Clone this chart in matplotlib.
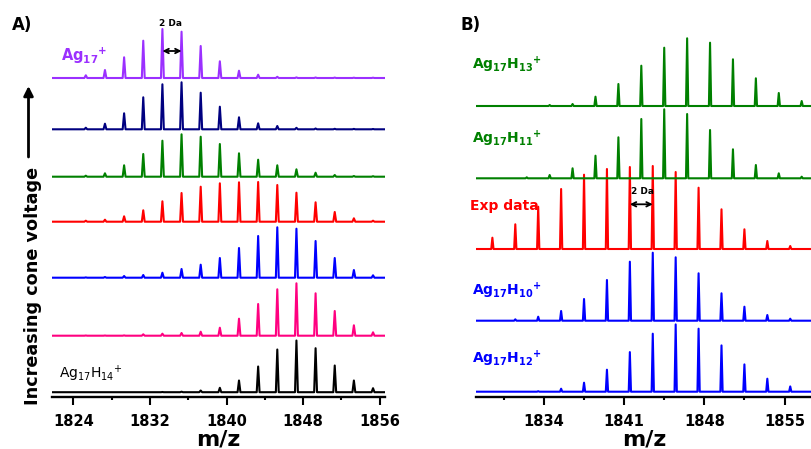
import numpy as np
import matplotlib.pyplot as plt

plt.rcParams['font.family'] = ['DejaVu Sans']
plt.rcParams['mathtext.fontset'] = 'dejavusans'

# ---- panel A: isotope peaks (m/z) and heights, rows from bottom to top ----
mz_a = [1825.3, 1827.3, 1829.3, 1831.3, 1833.3, 1835.3, 1837.3, 1839.3,
        1841.3, 1843.3, 1845.3, 1847.3, 1849.3, 1851.3, 1853.3, 1855.3]
a_black = [0, 0, 0, 0, 0.2, 0.5, 1.7, 4.4, 11.7, 25.7, 42.7, 51.7, 44, 26.7, 11.7, 4]
a_pink = [0.2, 0.2, 0.3, 1.4, 2, 2.7, 4, 8, 17, 31.7, 46.4, 52.4, 42.4, 24.7, 10.4, 3.4]
a_blue = [0.3, 0.7, 1.7, 2.7, 5, 8.7, 13, 19.7, 29.7, 41.7, 50.4, 49, 36.7, 19.7, 7.7, 2.4]
a_red = [1, 2, 5.4, 11.4, 20.4, 28.7, 35, 38.4, 39.4, 39.7, 36.7, 29, 19.4, 9.7, 3.4, 1]
a_green = [1, 3.4, 11.4, 22.7, 36, 42.4, 40, 32.7, 23.4, 17, 11.4, 7.4, 4, 1.7, 0.7, 0.5]
a_navy = [1.6, 5.6, 16, 32, 45, 47, 36.6, 22.6, 12, 6, 3.3, 1.5, 0.8, 0.5, 0.4, 0.3]
a_purple = [2.7, 8, 20.7, 37.3, 49, 46.3, 32, 16.7, 7.3, 3.3, 1.2, 0.6, 0.5, 0.4, 0.3, 0.3]

# ---- panel B: experimental vs simulated ----
mz_b_even = [1829.5, 1831.5, 1833.5, 1835.5, 1837.5, 1839.5, 1841.5,
             1843.5, 1845.5, 1847.5, 1849.5, 1851.5, 1853.5, 1855.5]
mz_b_odd = [1830.5, 1832.5, 1834.5, 1836.5, 1838.5, 1840.5, 1842.5,
            1844.5, 1846.5, 1848.5, 1850.5, 1852.5, 1854.5, 1856.5]
b_h12 = [0, 0, 0.5, 3, 9, 22, 39.6, 58, 67.3, 63, 46.3, 27.3, 13, 5.3]
b_h10 = [0, 1.4, 4, 9.7, 21.7, 40.7, 59, 68, 63.4, 47.4, 27.4, 14, 5.7, 2]
b_exp = [11.3, 24.7, 42.3, 60, 74.3, 80, 82, 83, 77, 61.3, 39.7, 19.7, 8, 3]
b_h11 = [0, 1, 3.3, 10, 22.6, 41, 59.3, 69, 64.3, 48.3, 29, 13.3, 5, 1.6]
b_h13 = [0, 0, 1, 2, 9.3, 22, 40.3, 58.3, 67.7, 63.3, 46.7, 27.7, 13, 5]

W, H = 812, 449


def fx(px):
    return px / W


def fy(py):
    return 1 - py / H


def trace(ax, centers, heights, base, color, x0, x1, w):
    xs, ys = [x0], [base]
    for c, h in zip(centers, heights):
        xs += [c - w, c, c + w]
        ys += [base, base + h, base]
    xs.append(x1)
    ys.append(base)
    ax.plot(xs, ys, color=color, lw=1.5)


def style_axis(ax, xlim, major, minor):
    ax.set_xlim(*xlim)
    ax.set_ylim(0, 381.7)
    for s in ['left', 'right', 'top']:
        ax.spines[s].set_visible(False)
    ax.spines['bottom'].set_linewidth(1.7)
    ax.set_yticks([])
    ax.set_xticks(major)
    ax.set_xticks(minor, minor=True)
    ax.tick_params(axis='x', which='major', direction='out', length=5.5, width=1.5,
                   pad=7, labelsize=10.5)
    ax.tick_params(axis='x', which='minor', direction='out', length=2.5, width=1.5)
    for lab in ax.get_xticklabels():
        lab.set_fontweight('bold')
    ax.set_xlabel('m/z', fontsize=16, fontweight='bold', labelpad=0)
    ax.patch.set_visible(False)


fig = plt.figure(figsize=(W / 100, H / 100), dpi=100)
axa = fig.add_axes([fx(52.3), 52.3 / H, fx(385 - 52.3), 381.7 / H])
axb = fig.add_axes([fx(476), 52.3 / H, fx(812 - 476), 381.7 / H])

xa = (1821.8, 1856.55)
rows_a = [(a_black, 4.5, 'black'), (a_pink, 61, '#FF0080'), (a_blue, 119, '#0000FF'),
          (a_red, 175, '#FF0000'), (a_green, 220, '#008000'),
          (a_navy, 267.4, '#000080'), (a_purple, 318.7, '#9B30FF')]
for vals, base, col in rows_a:
    trace(axa, mz_a, vals, base, col, xa[0], xa[1], 0.15)
style_axis(axa, xa, [1824, 1832, 1840, 1848, 1856], [1828, 1836, 1844, 1852])

xb = (1828.07, 1857.4)
rows_b = [(mz_b_even, b_h12, 5, '#0000FF'), (mz_b_even, b_h10, 76, '#0000FF'),
          (mz_b_even, b_exp, 147.7, '#FF0000'), (mz_b_odd, b_h11, 218.4, '#008000'),
          (mz_b_odd, b_h13, 290.7, '#008000')]
for mz, vals, base, col in rows_b:
    trace(axb, mz, vals, base, col, xb[0], xb[1], 0.1)
style_axis(axb, xb, [1834, 1841, 1848, 1855], [1830.5, 1837.5, 1844.5, 1851.5])

# 2 Da markers
axa.annotate('', xy=(1835.3, 345.7), xytext=(1833.3, 345.7),
             arrowprops=dict(arrowstyle='<->', lw=1.3, color='black',
                             shrinkA=0, shrinkB=0, mutation_scale=8))
axb.annotate('', xy=(1843.5, 192.4), xytext=(1841.5, 192.4),
             arrowprops=dict(arrowstyle='<->', lw=1.3, color='black',
                             shrinkA=0, shrinkB=0, mutation_scale=8))
fig.text(fx(170.5), fy(23), '2 Da', fontsize=6.5, fontweight='bold', ha='center', va='center')
fig.text(fx(643), fy(191.5), '2 Da', fontsize=6.5, fontweight='bold', ha='center', va='center')

# panel letters
fig.text(fx(22.5), fy(25), 'A)', fontsize=12, fontweight='bold', ha='center', va='center')
fig.text(fx(471), fy(25.5), 'B)', fontsize=12, fontweight='bold', ha='center', va='center')

# species labels
fig.text(fx(61), fy(56), r'$\mathbf{Ag_{17}{}^{+}}$', fontsize=10.5, color='#9B30FF',
         ha='left', va='center')
fig.text(fx(59), fy(374), r'$\mathrm{Ag_{17}H_{14}{}^{+}}$', fontsize=10, color='black',
         ha='left', va='center')
fig.text(fx(471.5), fy(65), r'$\mathbf{Ag_{17}H_{13}{}^{+}}$', fontsize=10, color='#008000',
         ha='left', va='center')
fig.text(fx(471.5), fy(139), r'$\mathbf{Ag_{17}H_{11}{}^{+}}$', fontsize=10, color='#008000',
         ha='left', va='center')
fig.text(fx(470), fy(206), 'Exp data', fontsize=10, fontweight='bold', color='#FF0000',
         ha='left', va='center')
fig.text(fx(471.5), fy(291), r'$\mathbf{Ag_{17}H_{10}{}^{+}}$', fontsize=10, color='#0000FF',
         ha='left', va='center')
fig.text(fx(471.5), fy(359), r'$\mathbf{Ag_{17}H_{12}{}^{+}}$', fontsize=10, color='#0000FF',
         ha='left', va='center')

# cone voltage label with arrow
fig.text(fx(33), fy(286), 'Increasing cone voltage', fontsize=12.7, fontweight='bold',
         rotation=90, ha='center', va='center')
axa.annotate('', xy=(fx(28.5), fy(86)), xytext=(fx(28.5), fy(157)),
             xycoords='figure fraction', textcoords='figure fraction',
             annotation_clip=False,
             arrowprops=dict(arrowstyle='-|>', lw=2, color='black',
                             shrinkA=0, shrinkB=0, mutation_scale=14))

fig.savefig('out.png', dpi=100)
